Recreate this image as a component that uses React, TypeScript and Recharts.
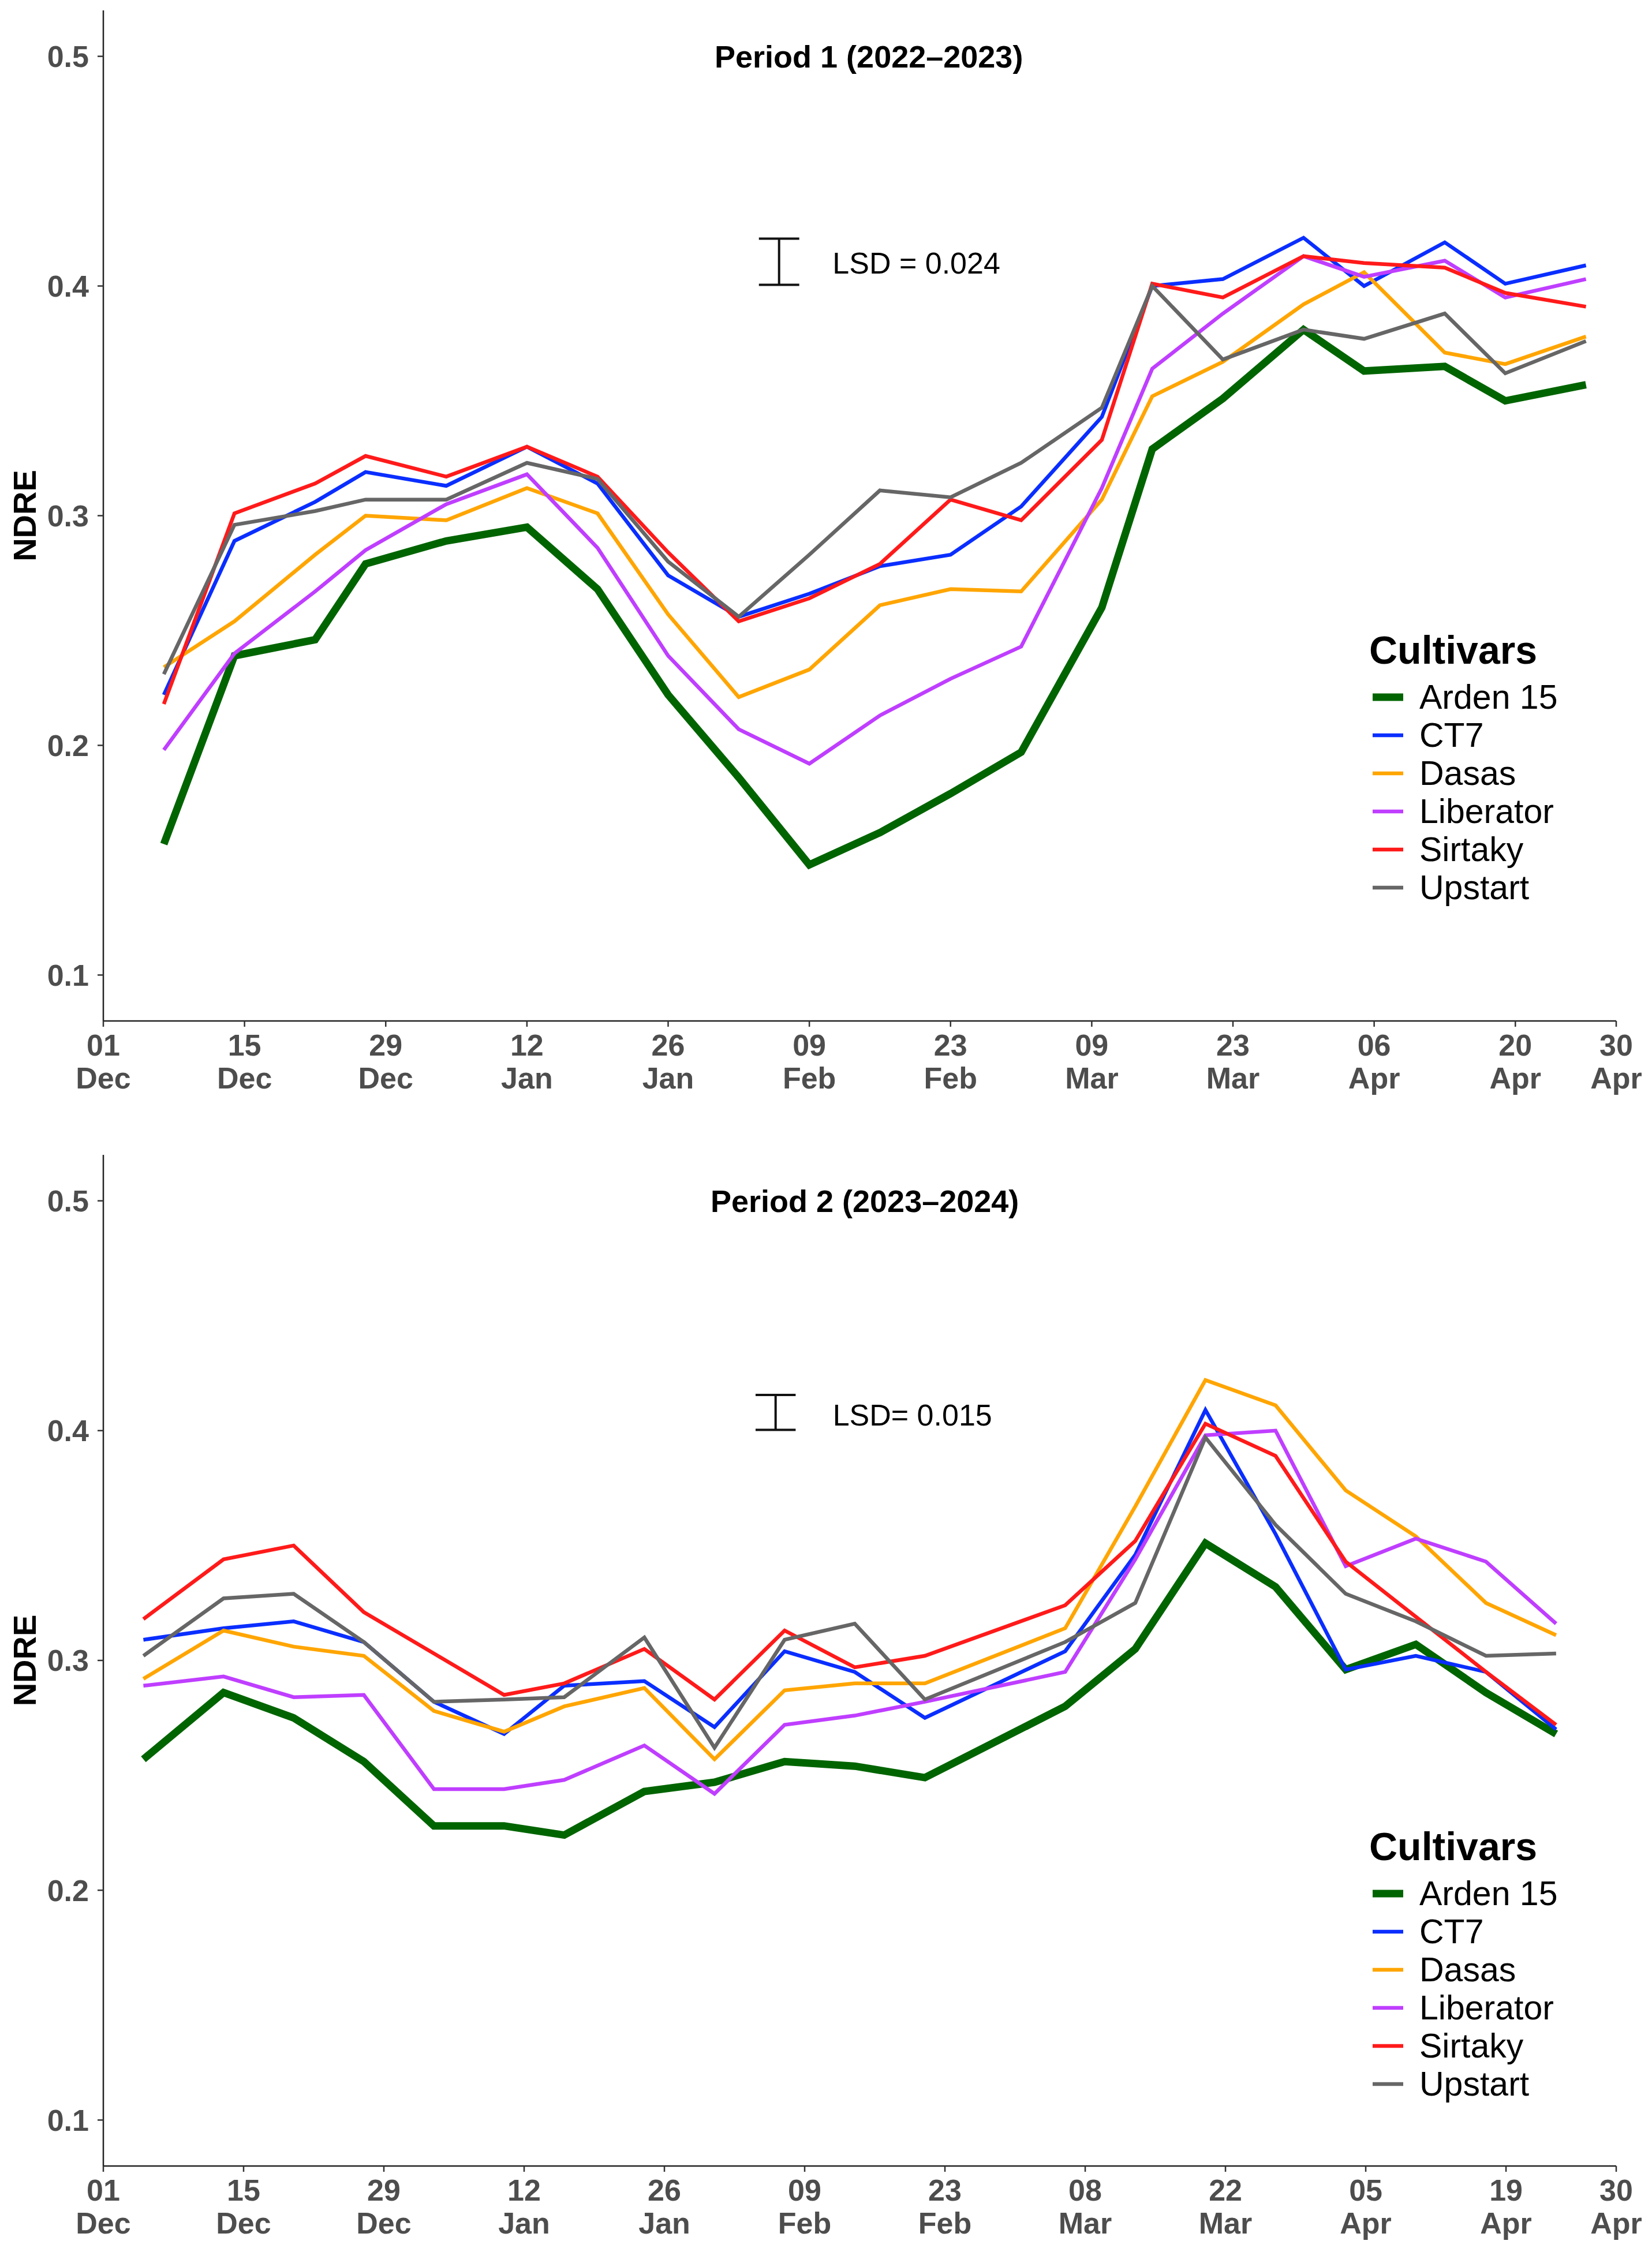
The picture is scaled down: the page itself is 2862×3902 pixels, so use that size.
import React from "react";
import { LineChart, Line, XAxis, YAxis, ReferenceLine, ReferenceDot, Legend } from "recharts";

const FONT = '"Liberation Sans", Arial, Helvetica, sans-serif';

// Period 1 (2022–2023), x = days since 1 Dec
const days1 = [6, 13, 21, 26, 34, 42, 49, 56, 63, 70, 77, 84, 91, 99, 104, 111, 119, 125, 133, 139, 147];
const arden1 = [0.157, 0.239, 0.246, 0.279, 0.289, 0.295, 0.268, 0.222, 0.186, 0.148, 0.162, 0.179, 0.197, 0.26, 0.329, 0.351, 0.381, 0.363, 0.365, 0.35, 0.357];
const ct7_1 = [0.222, 0.289, 0.306, 0.319, 0.313, 0.33, 0.314, 0.274, 0.256, 0.266, 0.278, 0.283, 0.304, 0.343, 0.4, 0.403, 0.421, 0.4, 0.419, 0.401, 0.409];
const dasas1 = [0.234, 0.254, 0.283, 0.3, 0.298, 0.312, 0.301, 0.257, 0.221, 0.233, 0.261, 0.268, 0.267, 0.307, 0.352, 0.367, 0.392, 0.406, 0.371, 0.366, 0.378];
const liberator1 = [0.198, 0.24, 0.267, 0.285, 0.305, 0.318, 0.286, 0.239, 0.207, 0.192, 0.213, 0.229, 0.243, 0.312, 0.364, 0.388, 0.413, 0.404, 0.411, 0.395, 0.403];
const sirtaky1 = [0.218, 0.301, 0.314, 0.326, 0.317, 0.33, 0.317, 0.284, 0.254, 0.264, 0.279, 0.307, 0.298, 0.333, 0.401, 0.395, 0.413, 0.41, 0.408, 0.397, 0.391];
const upstart1 = [0.231, 0.296, 0.302, 0.307, 0.307, 0.323, 0.316, 0.28, 0.256, 0.283, 0.311, 0.308, 0.323, 0.347, 0.4, 0.368, 0.381, 0.377, 0.388, 0.362, 0.376];
const tickDays1 = [0, 14, 28, 42, 56, 70, 84, 98, 112, 126, 140, 150];
const tickLabels1 = ["01 Dec", "15 Dec", "29 Dec", "12 Jan", "26 Jan", "09 Feb", "23 Feb", "09 Mar", "23 Mar", "06 Apr", "20 Apr", "30 Apr"];

// Period 2 (2023–2024)
const days2 = [4, 12, 19, 26, 33, 40, 46, 54, 61, 68, 75, 82, 96, 103, 110, 117, 124, 131, 138, 145];
const arden2 = [0.257, 0.286, 0.275, 0.256, 0.228, 0.228, 0.224, 0.243, 0.247, 0.256, 0.254, 0.249, 0.28, 0.305, 0.351, 0.332, 0.296, 0.307, 0.286, 0.268];
const ct7_2 = [0.309, 0.314, 0.317, 0.308, 0.282, 0.268, 0.289, 0.291, 0.271, 0.304, 0.295, 0.275, 0.304, 0.346, 0.409, 0.355, 0.296, 0.302, 0.295, 0.27];
const dasas2 = [0.292, 0.313, 0.306, 0.302, 0.278, 0.269, 0.28, 0.288, 0.257, 0.287, 0.29, 0.29, 0.314, 0.367, 0.422, 0.411, 0.374, 0.354, 0.325, 0.311];
const liberator2 = [0.289, 0.293, 0.284, 0.285, 0.244, 0.244, 0.248, 0.263, 0.242, 0.272, 0.276, 0.282, 0.295, 0.344, 0.398, 0.4, 0.341, 0.353, 0.343, 0.316];
const sirtaky2 = [0.318, 0.344, 0.35, 0.321, 0.303, 0.285, 0.29, 0.305, 0.283, 0.313, 0.297, 0.302, 0.324, 0.352, 0.403, 0.389, 0.343, 0.319, 0.295, 0.272];
const upstart2 = [0.302, 0.327, 0.329, 0.308, 0.282, 0.283, 0.284, 0.31, 0.262, 0.309, 0.316, 0.283, 0.308, 0.325, 0.397, 0.359, 0.329, 0.317, 0.302, 0.303];
const tickDays2 = [0, 14, 28, 42, 56, 70, 84, 98, 112, 126, 140, 151];
const tickLabels2 = ["01 Dec", "15 Dec", "29 Dec", "12 Jan", "26 Jan", "09 Feb", "23 Feb", "08 Mar", "22 Mar", "05 Apr", "19 Apr", "30 Apr"];

const yTicks = [0.1, 0.2, 0.3, 0.4, 0.5];

const cultivars = [
  { key: "arden", name: "Arden 15", color: "#006400", width: 13 },
  { key: "ct7", name: "CT7", color: "#0A2EFF", width: 6.5 },
  { key: "dasas", name: "Dasas", color: "#FFA500", width: 6.5 },
  { key: "liberator", name: "Liberator", color: "#BF3EFF", width: 6.5 },
  { key: "sirtaky", name: "Sirtaky", color: "#FF1A1A", width: 6.5 },
  { key: "upstart", name: "Upstart", color: "#666666", width: 6.5 },
];

const rows1 = days1.map((day, i) => ({
  day, arden: arden1[i], ct7: ct7_1[i], dasas: dasas1[i],
  liberator: liberator1[i], sirtaky: sirtaky1[i], upstart: upstart1[i],
}));
const rows2 = days2.map((day, i) => ({
  day, arden: arden2[i], ct7: ct7_2[i], dasas: dasas2[i],
  liberator: liberator2[i], sirtaky: sirtaky2[i], upstart: upstart2[i],
}));

const makeXTick = (days: number[], labels: string[]) => (props: any) => {
  const { x, y, payload } = props;
  const [d, m] = (labels[days.indexOf(payload.value)] || "").split(" ");
  const style = { fill: "#4D4D4D", fontSize: 52, fontWeight: "bold" as const, fontFamily: FONT };
  return (
    <g>
      <text x={x} y={y + 50} textAnchor="middle" {...style}>{d}</text>
      <text x={x} y={y + 107} textAnchor="middle" {...style}>{m}</text>
    </g>
  );
};

const ndreLabel = (props: any) => {
  const vb = props.viewBox || {};
  const cy = (vb.y ?? 18) + (vb.height ?? 1751) / 2;
  return (
    <text x={42} y={cy} transform={`rotate(-90, 42, ${cy})`} textAnchor="middle" dy="0.36em"
      fontSize={56} fontWeight="bold" fontFamily={FONT} fill="#000">NDRE</text>
  );
};

const textLabel = (text: string, anchor: "middle" | "start", size: number, weight: string) => (props: any) => {
  const vb = props.viewBox || {};
  return (
    <text x={vb.x} y={vb.y} dy="0.36em" textAnchor={anchor} fontSize={size} fontWeight={weight}
      fontFamily={FONT} fill="#000">{text}</text>
  );
};

const LegendBox = () => (
  <div style={{ fontFamily: FONT, color: "#000" }}>
    <div style={{ fontSize: 68, fontWeight: "bold", lineHeight: "90px", height: 90 }}>Cultivars</div>
    <div style={{ marginTop: 4 }}>
      {cultivars.map((c) => (
        <div key={c.key} style={{ display: "flex", alignItems: "center", height: 66 }}>
          <svg width={59} height={66} style={{ display: "block" }}>
            <line x1={6} x2={59} y1={33} y2={33} stroke={c.color} strokeWidth={c.width} />
          </svg>
          <span style={{ marginLeft: 28, fontSize: 59, lineHeight: "66px", whiteSpace: "nowrap" }}>{c.name}</span>
        </div>
      ))}
    </div>
  </div>
);

type PanelProps = {
  rows: any[]; tickDays: number[]; tickLabels: string[]; xMax: number;
  title: string; titleDay: number; lsdDay: number; lsdLow: number; lsdHigh: number;
  lsdText: string; lsdTextDay: number; lsdTextY: number;
  height: number; marginTop: number; axisHeight: number; legendTop: number;
};

const Panel = (p: PanelProps) => (
  <LineChart width={2862} height={p.height} data={p.rows}
    margin={{ top: p.marginTop, right: 62, bottom: 0, left: 0 }}>
    <XAxis type="number" dataKey="day" domain={[0, p.xMax]} ticks={p.tickDays} interval={0}
      allowDataOverflow height={p.axisHeight} tickSize={10} tickMargin={0}
      axisLine={{ stroke: "#222", strokeWidth: 2.5 }} tickLine={{ stroke: "#333", strokeWidth: 2.5 }}
      tick={makeXTick(p.tickDays, p.tickLabels)} />
    <YAxis type="number" domain={[0.08, 0.52]} ticks={yTicks} interval={0} allowDataOverflow
      width={179} tickSize={10} tickMargin={15} tickFormatter={(v: number) => v.toFixed(1)}
      axisLine={{ stroke: "#222", strokeWidth: 2.5 }} tickLine={{ stroke: "#333", strokeWidth: 2.5 }}
      tick={{ fill: "#4D4D4D", fontSize: 52, fontWeight: "bold", fontFamily: FONT }}
      label={ndreLabel} />
    {cultivars.map((c) => (
      <Line key={c.key} type="linear" dataKey={c.key} name={c.name} stroke={c.color}
        strokeWidth={c.width} dot={false} activeDot={false} isAnimationActive={false} />
    ))}
    <ReferenceLine segment={[{ x: p.lsdDay, y: p.lsdLow }, { x: p.lsdDay, y: p.lsdHigh }]}
      stroke="#111" strokeWidth={4} />
    <ReferenceLine segment={[{ x: p.lsdDay - 2, y: p.lsdLow }, { x: p.lsdDay + 2, y: p.lsdLow }]}
      stroke="#111" strokeWidth={4} />
    <ReferenceLine segment={[{ x: p.lsdDay - 2, y: p.lsdHigh }, { x: p.lsdDay + 2, y: p.lsdHigh }]}
      stroke="#111" strokeWidth={4} />
    <ReferenceDot x={p.lsdTextDay} y={p.lsdTextY} r={0} fill="none" stroke="none"
      label={textLabel(p.lsdText, "start", 52, "normal")} />
    <ReferenceDot x={p.titleDay} y={0.5} r={0} fill="none" stroke="none"
      label={textLabel(p.title, "middle", 54, "bold")} />
    <Legend layout="horizontal" verticalAlign="middle" align="center"
      wrapperStyle={{ left: 2372, top: p.legendTop, width: 480, height: 500 }}
      content={() => <LegendBox />} />
  </LineChart>
);

export default function App() {
  return (
    <div style={{ position: "absolute", left: 0, top: 0, width: 2862, height: 3902, background: "#fff" }}>
      <div style={{ position: "absolute", left: 0, top: 0 }}>
        <Panel rows={rows1} tickDays={tickDays1} tickLabels={tickLabels1} xMax={150}
          title="Period 1 (2022–2023)" titleDay={75.9}
          lsdDay={67} lsdLow={0.4005} lsdHigh={0.4206} lsdText="LSD = 0.024" lsdTextDay={72.3} lsdTextY={0.41}
          height={1950} marginTop={18} axisHeight={181} legendTop={1081} />
      </div>
      <div style={{ position: "absolute", left: 0, top: 1950 }}>
        <Panel rows={rows2} tickDays={tickDays2} tickLabels={tickLabels2} xMax={151}
          title="Period 2 (2023–2024)" titleDay={76}
          lsdDay={67.1} lsdLow={0.4003} lsdHigh={0.4155} lsdText="LSD= 0.015" lsdTextDay={72.8} lsdTextY={0.4068}
          height={1952} marginTop={51} axisHeight={149} legendTop={1204} />
      </div>
    </div>
  );
}
